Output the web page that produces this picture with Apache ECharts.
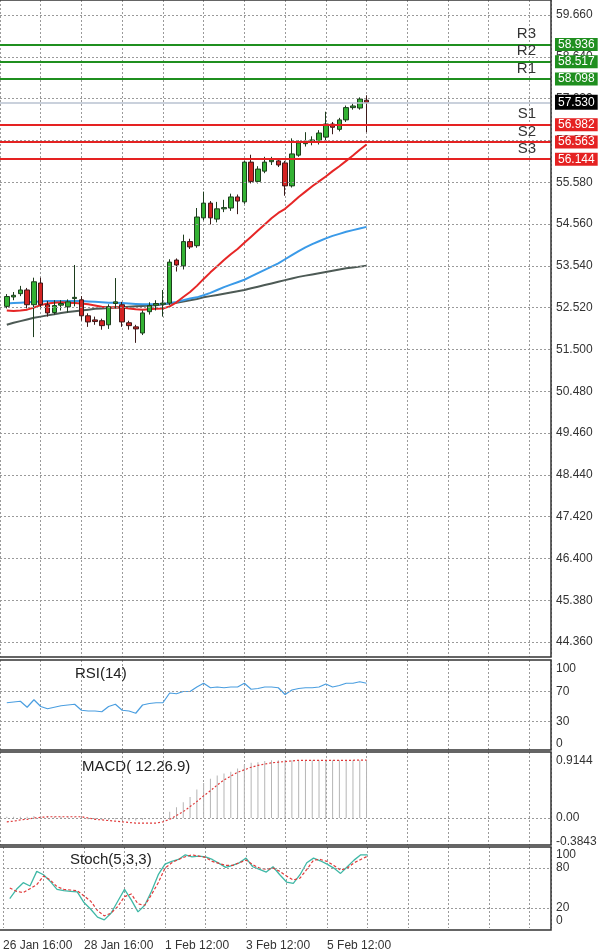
<!DOCTYPE html>
<html><head><meta charset="utf-8">
<script src="https://cdn.jsdelivr.net/npm/echarts@6/dist/echarts.min.js"></script>
<style>html,body{margin:0;padding:0;background:#fff}#c{width:600px;height:952px}</style>
</head><body><div id="c"></div>
<script>
// ---- data ----
const xLabels = {'-6':'26 Jan 16:00','6':'28 Jan 16:00','18':'1 Feb 12:00','30':'3 Feb 12:00','42':'5 Feb 12:00'};
const opens  = [52.55,52.78,52.86,52.95,52.59,53.12,52.59,52.40,52.58,52.54,52.74,52.71,52.32,52.22,52.20,52.10,52.62,52.59,52.15,52.05,51.90,52.42,52.58,52.60,52.63,53.68,53.54,54.13,54.03,54.71,55.07,54.68,54.93,54.95,55.22,55.10,56.07,55.60,55.85,56.08,56.10,56.05,55.49,56.24,56.52,56.57,56.56,56.68,57.00,56.87,57.10,57.40,57.39,57.58];
const closes = [52.79,52.82,52.95,52.59,53.15,52.59,52.39,52.57,52.62,52.66,52.77,52.32,52.17,52.18,52.08,52.54,52.66,52.17,52.08,52.00,52.39,52.57,52.62,52.63,53.63,53.56,54.13,54.00,54.73,55.07,54.71,54.93,54.96,55.22,55.12,56.07,55.60,55.90,56.07,56.12,56.00,55.49,56.27,56.54,56.58,56.61,56.78,57.00,56.92,57.10,57.40,57.44,57.61,57.53];
const lows   = [52.50,52.70,52.80,52.50,51.80,52.50,52.30,52.35,52.45,52.40,52.55,52.20,52.05,52.10,51.98,52.00,52.50,52.05,51.98,51.66,51.85,52.35,52.45,52.30,52.58,53.40,53.45,53.95,53.98,54.65,54.55,54.60,54.85,54.88,54.80,55.05,55.55,55.55,55.80,56.00,55.95,55.25,55.45,56.20,56.45,56.48,56.50,56.60,56.75,56.82,57.05,57.35,57.35,56.80];
const highs  = [52.85,52.90,53.05,53.00,53.25,53.25,52.68,52.70,52.70,52.72,53.56,52.80,52.38,52.30,52.25,52.60,53.24,52.66,52.20,52.10,52.45,52.65,52.70,52.95,53.70,53.72,54.30,54.20,54.95,55.35,55.12,55.10,55.15,55.30,55.28,56.10,56.25,55.97,56.20,56.20,56.15,56.10,56.65,56.60,56.80,56.70,56.85,57.30,57.05,57.15,57.45,57.50,57.65,57.70];
const maFast = [52.45,52.44,52.45,52.47,52.52,52.58,52.62,52.64,52.65,52.64,52.63,52.62,52.60,52.57,52.54,52.52,52.53,52.52,52.50,52.48,52.47,52.48,52.49,52.50,52.55,52.65,52.78,52.90,53.05,53.22,53.38,53.53,53.68,53.82,53.95,54.10,54.25,54.40,54.55,54.70,54.83,54.93,55.07,55.22,55.35,55.48,55.60,55.72,55.85,55.97,56.10,56.23,56.37,56.50];
const maMid  = [52.62,52.63,52.64,52.65,52.66,52.67,52.68,52.68,52.68,52.68,52.68,52.68,52.67,52.66,52.65,52.64,52.64,52.63,52.62,52.61,52.60,52.60,52.60,52.61,52.63,52.66,52.70,52.74,52.77,52.82,52.88,52.95,53.02,53.08,53.14,53.20,53.28,53.36,53.44,53.52,53.60,53.70,53.80,53.90,53.99,54.07,54.14,54.21,54.27,54.32,54.37,54.41,54.45,54.49];
const maSlow = [52.10,52.15,52.19,52.23,52.27,52.30,52.33,52.36,52.39,52.41,52.43,52.45,52.47,52.49,52.50,52.51,52.52,52.53,52.54,52.55,52.56,52.57,52.58,52.60,52.62,52.64,52.67,52.70,52.73,52.77,52.80,52.83,52.86,52.89,52.92,52.95,52.99,53.03,53.07,53.11,53.15,53.19,53.23,53.27,53.30,53.33,53.36,53.39,53.42,53.45,53.48,53.50,53.52,53.54];
const rsi = [55,56,57,49,59,50,47,49,51,52,53,45,44,44,43,50,53,45,44,41,52,54,55,55,68,67,70,70,76,81,75,76,75,76,76,81,73,74,76,76,75,66,72,74,75,75,76,80,76,78,81,81,83,81];
const macdHist = [0.02,0.02,0.02,0.02,0.03,0.03,0.03,0.02,0.02,0.02,0.01,-0.01,-0.02,-0.03,-0.03,-0.03,-0.02,-0.03,-0.04,-0.04,-0.03,-0.02,-0.01,0.00,0.10,0.17,0.25,0.33,0.45,0.55,0.62,0.67,0.70,0.73,0.78,0.84,0.87,0.88,0.90,0.91,0.91,0.91,0.91,0.91,0.91,0.91,0.91,0.91,0.91,0.91,0.91,0.91,0.91,0.914];
const macdSignal = [-0.06,-0.05,-0.03,-0.02,0.00,0.01,0.02,0.02,0.02,0.02,0.02,0.02,0.00,-0.02,-0.03,-0.04,-0.05,-0.06,-0.07,-0.08,-0.08,-0.08,-0.08,-0.06,-0.02,0.04,0.10,0.18,0.26,0.35,0.43,0.52,0.60,0.66,0.72,0.76,0.80,0.83,0.85,0.87,0.88,0.89,0.90,0.91,0.91,0.91,0.91,0.91,0.91,0.91,0.91,0.91,0.914,0.914];
const stochK = [34,48,58,53,75,70,60,48,46,45,44,28,18,6,2,12,30,48,32,14,24,45,70,86,90,93,100,97,98,97,93,87,81,84,88,95,82,78,74,82,70,59,57,70,88,95,91,86,80,72,82,92,100,100];
const stochD = [50,45,43,49,55,68,62,52,48,47,46,38,30,16,8,12,22,37,41,26,24,40,58,80,88,93,97,100,98,96,90,87,84,84,88,92,85,80,78,80,75,68,62,65,78,92,93,90,84,77,80,88,93,98];
const priceTicks = ['59.660','58.640','57.620','56.600','55.580','54.560','53.540','52.520','51.500','50.480','49.460','48.440','47.420','46.400','45.380','44.360'];
const levels = [
  {name:'R3', value:58.936, kind:'r'},
  {name:'R2', value:58.517, kind:'r'},
  {name:'R1', value:58.098, kind:'r'},
  {name:'S1', value:56.982, kind:'s'},
  {name:'S2', value:56.563, kind:'s'},
  {name:'S3', value:56.144, kind:'s'}
];
const lastPrice = 57.530;
const rsiTicks = [100,70,30,0];
const macdTicks = ['0.9144','0.00','-0.3843'];
const stochTicks = [100,80,20,0];

// ---- build ----
const xs = opens.map((_, i) => i - 5);
const candles = opens.map((o, i) => [xs[i], o, closes[i], lows[i], highs[i]]);
const pair = arr => arr.map((v, i) => [xs[i], v]);
const GRID = '#9a9a9a';
const TXT = '#333';
const FONT = 'Liberation Sans';
const CLEAR = 'rgba(0,0,0,0)';
const SLOT = 6.83, GL = -3.43, GW = 551 - GL;

function xAxisFor(g, showLabels) {
  return {type:'value', gridIndex:g, min:-6, max:-6 + GW/SLOT, interval:6,
    axisLine:{show:false}, axisTick:{show:false},
    splitLine:{show:true, lineStyle:{color:GRID, type:[2,2], width:1}},
    axisLabel:{show:showLabels, showMinLabel:true, showMaxLabel:false, align:'left', margin:12,
      color:TXT, fontFamily:FONT, fontSize:12,
      formatter: v => xLabels[String(Math.round(v))] || ''}};
}
function yAxisFor(g, min, max) {
  return {type:'value', gridIndex:g, min, max, position:'right',
    axisLine:{show:false}, axisTick:{show:false}, axisLabel:{show:false}, splitLine:{show:false}};
}
function tickLines(vals, dashedFn, labelFn) {
  return {silent:true, symbol:'none', animation:false,
    data: vals.map(v => ({yAxis:+v,
      lineStyle:{color: dashedFn(v) ? GRID : CLEAR, type:[2,2], width:1},
      label:{show:true, position:'end', distance:5, formatter: labelFn ? labelFn(v) : String(v),
        color:TXT, fontFamily:FONT, fontSize:12}}))};
}

const levelMarks = [];
levels.forEach(l => {
  const col = l.kind === 'r' ? '#1f8f1f' : '#e52222';
  levelMarks.push({yAxis:l.value, lineStyle:{color:col, width:2, type:'solid'},
    label:{show:true, position:'end', distance:4, formatter:l.value.toFixed(3), color:'#fff',
      backgroundColor:col, padding:[1,3,0,3], fontFamily:FONT, fontSize:12}});
  levelMarks.push({yAxis:l.value, lineStyle:{color:CLEAR, width:1},
    label:{show:true, position:'insideEndTop', distance:3, padding:[0,12,0,0], formatter:l.name, color:'#333',
      fontFamily:FONT, fontSize:15}});
});
levelMarks.push({yAxis:lastPrice, lineStyle:{color:'#b8c2d0', width:1.5, type:'solid'},
  label:{show:true, position:'end', distance:4, formatter:lastPrice.toFixed(3), color:'#fff',
    backgroundColor:'#000', padding:[2,3,1,3], fontFamily:FONT, fontSize:12}});

const panels = [[0,657],[660,90],[752,93],[847,83]];
const graphics = panels.map(p => ({type:'rect', shape:{x:-2, y:p[0], width:553, height:p[1]},
  style:{fill:'none', stroke:'#333', lineWidth:1.5}, z:100, silent:true}));
[['RSI(14)',75,666],['MACD( 12.26.9)',82,759],['Stoch(5,3,3)',70,852]].forEach(t =>
  graphics.push({type:'text', x:t[1], y:t[2], style:{text:t[0], fill:'#222', font:'15px "Liberation Sans"'}, z:100}));

const option = {
  animation:false, backgroundColor:'#fff',
  grid:[
    {left:GL, width:GW, top:0, height:657},
    {left:GL, width:GW, top:660, height:90},
    {left:GL, width:GW, top:752, height:93},
    {left:GL, width:GW, top:847, height:83}
  ],
  xAxis:[xAxisFor(0,false), xAxisFor(1,false), xAxisFor(2,false), xAxisFor(3,true)],
  yAxis:[
    yAxisFor(0, 44.36 - 15/41, 59.66 + 15/41),
    yAxisFor(1, -8, 112),
    yAxisFor(2, -0.3843 - 2.6/63.4, 0.9144 + 8/63.4),
    yAxisFor(3, -7/0.68, 100 + 8/0.68)
  ],
  graphic: graphics,
  series:[
    {type:'scatter', xAxisIndex:0, yAxisIndex:0, data:[], z:1,
      markLine: tickLines(priceTicks, () => true, null)},
    {type:'candlestick', xAxisIndex:0, yAxisIndex:0, data:candles, encode:{x:0, y:[1,2,3,4]},
      barWidth:5, z:3,
      itemStyle:{color:'#33b233', color0:'#d42323', borderColor:'#1d3d1d', borderColor0:'#3d1a1a', borderWidth:1}},
    {type:'line', xAxisIndex:0, yAxisIndex:0, data:pair(maSlow), symbol:'none', lineStyle:{color:'#4d5a55', width:2}, z:2},
    {type:'line', xAxisIndex:0, yAxisIndex:0, data:pair(maMid), symbol:'none', lineStyle:{color:'#3a9ae8', width:2}, z:2},
    {type:'line', xAxisIndex:0, yAxisIndex:0, data:pair(maFast), symbol:'none', lineStyle:{color:'#e62626', width:2}, z:2},
    {type:'scatter', xAxisIndex:0, yAxisIndex:0, data:[], z:5,
      markLine:{silent:true, symbol:'none', z:5, data:levelMarks}},
    {type:'line', xAxisIndex:1, yAxisIndex:1, data:pair(rsi), symbol:'none', lineStyle:{color:'#4a9ee0', width:1.2},
      markLine: tickLines(rsiTicks, v => v===30||v===70, null)},
    {type:'bar', xAxisIndex:2, yAxisIndex:2, data:pair(macdHist), barWidth:1, itemStyle:{color:'#b5b5b5'},
      markLine: tickLines(macdTicks, v => +v===0, v => v)},
    {type:'line', xAxisIndex:2, yAxisIndex:2, data:pair(macdSignal), symbol:'none', lineStyle:{color:'#e03a3a', width:1.2, type:[2,2]}},
    {type:'line', xAxisIndex:3, yAxisIndex:3, data:pair(stochK), symbol:'none', lineStyle:{color:'#3fb8a6', width:1.3},
      markLine: tickLines(stochTicks, v => v===20||v===80, null)},
    {type:'line', xAxisIndex:3, yAxisIndex:3, data:pair(stochD), symbol:'none', lineStyle:{color:'#e03a3a', width:1.2, type:[3,2]}}
  ]
};
const chart = echarts.init(document.getElementById('c'), null, {renderer:'canvas'});
chart.setOption(option);
</script></body></html>
